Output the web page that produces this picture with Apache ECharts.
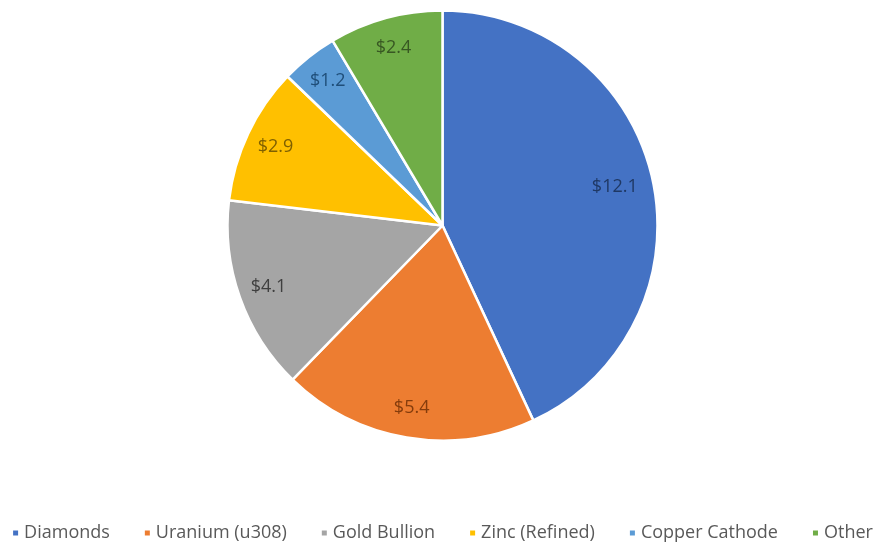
<!DOCTYPE html>
<html>
<head>
<meta charset="utf-8">
<script src="https://cdn.jsdelivr.net/npm/echarts@6/dist/echarts.min.js"></script>
<style>
  html, body { margin: 0; padding: 0; background: #ffffff; }
  #chart { width: 884px; height: 543px; }
</style>
</head>
<body>
<div id="chart"></div>
<script>
// Export value by commodity (US$ billions)
const categories = ['Diamonds', 'Uranium (u308)', 'Gold Bullion', 'Zinc (Refined)', 'Copper Cathode', 'Other'];
const values = [12.1, 5.4, 4.1, 2.9, 1.2, 2.4];
const sliceColors = ['#4472C4', '#ED7D31', '#A5A5A5', '#FFC000', '#5B9BD5', '#70AD47'];
const labelColors = ['#1F3864', '#843C0C', '#3F3F3F', '#7F6000', '#1F4E79', '#385723'];

const chart = echarts.init(document.getElementById('chart'), null, { renderer: 'canvas' });

const center = [442.5, 225.5];
const R = 215;
const font = '"Open Sans", "Noto Sans", sans-serif';

const sliceData = categories.map((name, i) => ({
  name,
  value: values[i],
  itemStyle: { color: sliceColors[i] }
}));

// the large slice keeps its label a little further from the rim
const labelData = categories.map((name, i) => ({
  name,
  value: values[i],
  label: { color: labelColors[i], offset: i === 0 ? [-8, 1] : [0, 0] }
}));

chart.setOption({
  animation: false,
  backgroundColor: '#ffffff',
  legend: {
    top: 519,
    left: 'center',
    icon: 'rect',
    itemWidth: 7,
    itemHeight: 7,
    itemGap: 33,
    data: categories,
    textStyle: { color: '#595959', fontSize: 18, fontFamily: font }
  },
  series: [
    {
      name: 'slices',
      type: 'pie',
      center,
      radius: [0, R],
      startAngle: 90,
      clockwise: true,
      data: sliceData,
      itemStyle: { borderColor: '#ffffff', borderWidth: 2.5 },
      label: { show: false },
      labelLine: { show: false },
      emphasis: { disabled: true }
    },
    {
      // transparent ring that carries the value labels near the rim
      name: 'labels',
      type: 'pie',
      center,
      radius: [R * 0.69, R],
      startAngle: 90,
      clockwise: true,
      silent: true,
      data: labelData,
      itemStyle: { color: 'rgba(0,0,0,0)', borderWidth: 0 },
      label: {
        show: true,
        position: 'inside',
        formatter: p => '$' + p.value.toFixed(1),
        fontSize: 18,
        fontFamily: font
      },
      labelLine: { show: false },
      emphasis: { disabled: true }
    }
  ]
});
</script>
</body>
</html>
